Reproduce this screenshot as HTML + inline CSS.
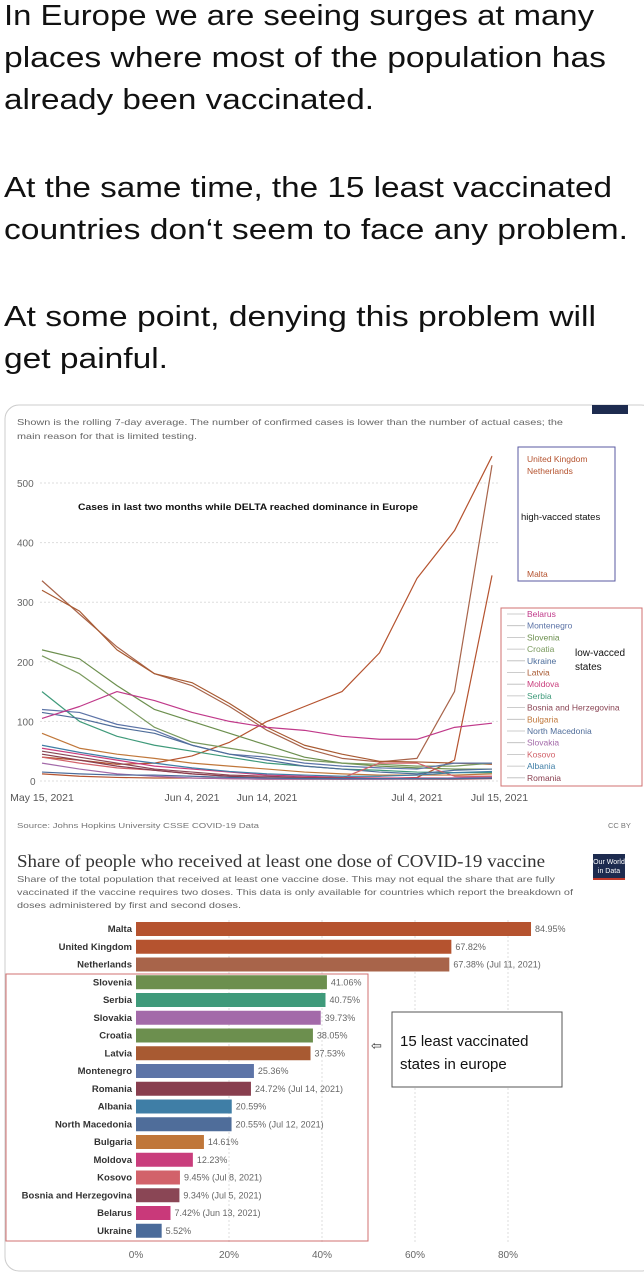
<!DOCTYPE html>
<html><head><meta charset="utf-8">
<style>
body{margin:0;background:#fff;width:644px;height:1280px;overflow:hidden;font-family:"Liberation Sans",sans-serif}
svg text{font-family:"Liberation Sans",sans-serif}
</style></head>
<body>
<svg id="s" width="644" height="1280" viewBox="0 0 644 1280" xmlns="http://www.w3.org/2000/svg">
<g font-size="29" fill="#111" lengthAdjust="spacingAndGlyphs">
<text x="4" y="25" textLength="590" lengthAdjust="spacingAndGlyphs">In Europe we are seeing surges at many</text>
<text x="4" y="67" textLength="602" lengthAdjust="spacingAndGlyphs">places where most of the population has</text>
<text x="4" y="109" textLength="370" lengthAdjust="spacingAndGlyphs">already been vaccinated.</text>
<text x="4" y="197" textLength="608" lengthAdjust="spacingAndGlyphs">At the same time, the 15 least vaccinated</text>
<text x="4" y="239" textLength="624" lengthAdjust="spacingAndGlyphs">countries don‘t seem to face any problem.</text>
<text x="4" y="326" textLength="592" lengthAdjust="spacingAndGlyphs">At some point, denying this problem will</text>
<text x="4" y="368" textLength="164" lengthAdjust="spacingAndGlyphs">get painful.</text>
</g>
<rect x="5" y="405" width="650" height="866" rx="14" fill="none" stroke="#ccc"/>
<rect x="592" y="405" width="36" height="9" fill="#1d2b4f"/>
<g font-size="8.5" fill="#666">
<text x="17" y="425" textLength="546" lengthAdjust="spacingAndGlyphs">Shown is the rolling 7-day average. The number of confirmed cases is lower than the number of actual cases; the</text>
<text x="17" y="439" textLength="180" lengthAdjust="spacingAndGlyphs">main reason for that is limited testing.</text>
</g>
<g id="lineChart"></g>
<text x="78" y="510" font-size="9.5" font-weight="bold" fill="#111" textLength="340" lengthAdjust="spacingAndGlyphs">Cases in last two months while DELTA reached dominance in Europe</text>
<rect x="518" y="447" width="97" height="134" fill="none" stroke="#5a5aa0"/>
<text x="521" y="520" font-size="9.5" fill="#111">high-vacced states</text>
<rect x="501" y="608" width="141" height="178" fill="none" stroke="#d07070"/>
<text x="575" y="656" font-size="10" fill="#111">low-vacced</text>
<text x="575" y="670" font-size="10" fill="#111">states</text>
<text x="17" y="828" font-size="7.5" fill="#777" textLength="242" lengthAdjust="spacingAndGlyphs">Source: Johns Hopkins University CSSE COVID-19 Data</text>
<text x="608" y="828" font-size="7.5" fill="#777">CC BY</text>

<text x="17" y="867" font-size="17.5" fill="#333" textLength="528" lengthAdjust="spacingAndGlyphs" style="font-family:'Liberation Serif',serif">Share of people who received at least one dose of COVID-19 vaccine</text>
<g font-size="8.5" fill="#666">
<text x="17" y="882" textLength="538" lengthAdjust="spacingAndGlyphs">Share of the total population that received at least one vaccine dose. This may not equal the share that are fully</text>
<text x="17" y="895" textLength="556" lengthAdjust="spacingAndGlyphs">vaccinated if the vaccine requires two doses. This data is only available for countries which report the breakdown of</text>
<text x="17" y="908" textLength="224" lengthAdjust="spacingAndGlyphs">doses administered by first and second doses.</text>
</g>
<rect x="593" y="854" width="32" height="26" fill="#1d2b4f"/>
<rect x="593" y="878" width="32" height="2" fill="#c0392b"/>
<text x="609" y="864" font-size="7" fill="#fff" text-anchor="middle">Our World</text>
<text x="609" y="873" font-size="7" fill="#fff" text-anchor="middle">in Data</text>
<g id="barChart"></g>
<rect x="6" y="974" width="362" height="267" fill="none" stroke="#d07070"/>
<text x="371" y="1050" font-size="13" fill="#333">⇦</text>
<rect x="392" y="1012" width="170" height="75" fill="#fff" stroke="#555"/>
<text x="400" y="1046" font-size="15" fill="#111">15 least vaccinated</text>
<text x="400" y="1069" font-size="15" fill="#111">states in europe</text>
</svg>
<script>
const NS="http://www.w3.org/2000/svg";
// ---- line chart data ----
const days=[0,5,10,15,20,25,30,35,40,45,50,55,60];
const yTicks=[0,100,200,300,400,500];
const xTickDays=[0,20,30,50,61];
const xTickLabels=["May 15, 2021","Jun 4, 2021","Jun 14, 2021","Jul 4, 2021","Jul 15, 2021"];
const seriesNames=["United Kingdom","Netherlands","Malta","Latvia","Slovenia","Croatia","Serbia","Montenegro","North Macedonia","Belarus","Bulgaria","Moldova","Kosovo","Romania","Bosnia and Herzegovina","Slovakia","Ukraine","Albania"];
const seriesColors=["#b5532f","#a8644a","#b5532f","#a85a32","#6c8f4e","#7a9a5e","#3f9a7a","#5d74a7","#4f6d9a","#c0398a","#c0773a","#c93d7c","#d2626a","#883e4e","#8a4655","#a36aa9","#4a6b9a","#3f7ea6"];
const sUK=[40,35,28,30,42,65,100,125,150,215,340,420,545];
const sNL=[336,280,225,180,160,125,85,55,38,32,38,150,530];
const sMT=[12,8,6,5,5,4,3,3,3,4,6,35,345];
const sLV=[320,285,220,180,165,130,90,60,45,33,32,30,28];
const sSI=[220,205,160,120,100,80,60,40,30,25,22,20,20];
const sHR=[210,180,135,90,65,55,45,35,30,28,25,25,30];
const sRS=[150,100,75,60,50,40,30,25,20,18,15,14,14];
const sME=[120,115,95,85,60,45,40,30,25,22,20,30,30];
const sMK=[115,105,90,80,60,45,35,25,20,15,12,18,20];
const sBY=[105,125,150,135,115,100,90,85,75,70,70,90,97];
const sBG=[80,55,45,38,30,25,20,15,12,10,10,10,12];
const sMD=[55,45,35,25,20,15,10,8,6,5,5,5,8];
const sXK=[40,30,22,18,12,8,6,5,5,30,30,8,8];
const sRO=[45,35,25,18,12,8,5,4,3,3,3,3,4];
const sBA=[50,40,30,20,15,10,8,6,5,4,4,5,5];
const sSK=[30,20,12,8,5,4,3,3,3,3,4,5,6];
const sUA=[15,12,10,10,8,6,5,4,4,4,4,4,5];
const sAL=[60,48,38,30,22,16,12,10,8,8,10,14,16];
const allSeries=[sUK,sNL,sMT,sLV,sSI,sHR,sRS,sME,sMK,sBY,sBG,sMD,sXK,sRO,sBA,sSK,sUA,sAL];
const highNames=["United Kingdom","Netherlands","Malta"];
const lowNames=["Belarus","Montenegro","Slovenia","Croatia","Ukraine","Latvia","Moldova","Serbia","Bosnia and Herzegovina","Bulgaria","North Macedonia","Slovakia","Kosovo","Albania","Romania"];
const lowColors=["#c0398a","#5d74a7","#6c8f4e","#7a9a5e","#4a6b9a","#a85a32","#c93d7c","#3f9a7a","#8a4655","#c0773a","#4f6d9a","#a36aa9","#d2626a","#3f7ea6","#883e4e"];
const xL=d=>42+d*7.5;
const yL=v=>781-v*0.596;
function mk(tag,attrs,parent){const e=document.createElementNS(NS,tag);for(const k in attrs)e.setAttribute(k,attrs[k]);parent.appendChild(e);return e;}
const lc=document.getElementById('lineChart');
yTicks.forEach(t=>{
  const g=mk('line',{x1:40,x2:500,y1:yL(t),y2:yL(t),stroke:'#ddd','stroke-dasharray':'2,2'},lc);
  
  
  const tx=mk('text',{x:t===0?30:17,y:yL(t)+4,'font-size':10,fill:'#666'},lc);
  tx.textContent=t;
  
  
});
xTickDays.forEach((d,i)=>{
  const tx=mk('text',{x:xL(d),y:801,'font-size':10.5,fill:'#555','text-anchor':'middle'},lc);
  tx.textContent=xTickLabels[i];
  
  
});
allSeries.forEach((s,i)=>{
  const p=mk('polyline',{points:s.map((v,j)=>xL(days[j])+','+yL(v)).join(' '),fill:'none',stroke:seriesColors[i],'stroke-width':1.2,'stroke-linejoin':'round'},lc);
  
  
});
const highY=[462,474,577];
highNames.forEach((n,i)=>{
  const t=mk('text',{x:527,y:highY[i],'font-size':8.5,fill:'#b5532f'},lc);
  t.textContent=n;
  
  
});
lowNames.forEach((n,i)=>{
  const y=617+i*11.7;
  const t=mk('text',{x:527,y:y,'font-size':8.5,fill:lowColors[i]},lc);
  t.textContent=n;
  
  
  const l=mk('line',{x1:507,x2:525,y1:y-3,y2:y-3,stroke:'#bbb','stroke-width':0.8},lc);
  
  
});
// ---- bar chart data ----
const countries=["Malta","United Kingdom","Netherlands","Slovenia","Serbia","Slovakia","Croatia","Latvia","Montenegro","Romania","Albania","North Macedonia","Bulgaria","Moldova","Kosovo","Bosnia and Herzegovina","Belarus","Ukraine"];
const shares=[84.95,67.82,67.38,41.06,40.75,39.73,38.05,37.53,25.36,24.72,20.59,20.55,14.61,12.23,9.45,9.34,7.42,5.52];
const notes=["","","(Jul 11, 2021)","","","","","","","(Jul 14, 2021)","","(Jul 12, 2021)","","","(Jul 8, 2021)","(Jul 5, 2021)","(Jun 13, 2021)",""];
const barColors=["#b5532f","#b5532f","#a8644a","#6c8f4e","#3f9a7a","#a36aa9","#6c8f4e","#a85a32","#5d74a7","#883e4e","#3f7ea6","#4f6d9a","#c0773a","#c93d7c","#d2626a","#8a4655","#c9397a","#4a6b9a"];
const pctTicks=[0,20,40,60,80];
const xB=v=>136+v*4.65;
const yB=i=>929+i*17.75;
const bc=document.getElementById('barChart');
pctTicks.forEach(t=>{
  if(t>0){const l=mk('line',{x1:xB(t),x2:xB(t),y1:920,y2:1242,stroke:'#ddd','stroke-dasharray':'2,2'},bc);
  
  }
  const tx=mk('text',{x:xB(t),y:1258,'font-size':10,fill:'#666','text-anchor':'middle'},bc);
  tx.textContent=t+'%';
  
  
});
countries.forEach((c,i)=>{
  const y=yB(i);
  const r=mk('rect',{x:xB(0),y:y-7,width:xB(shares[i])-xB(0),height:14,fill:barColors[i]},bc);
  
  
  const lb=mk('text',{x:132,y:y+3,'font-size':9.5,'font-weight':'bold',fill:'#333','text-anchor':'end'},bc);
  lb.textContent=c;
  
  
  const v=mk('text',{x:xB(shares[i])+4,y:y+3,'font-size':9,fill:'#666'},bc);
  v.textContent=shares[i].toFixed(2)+'%'+(notes[i]?' '+notes[i]:'');
  
  
});
</script>
</body></html>
